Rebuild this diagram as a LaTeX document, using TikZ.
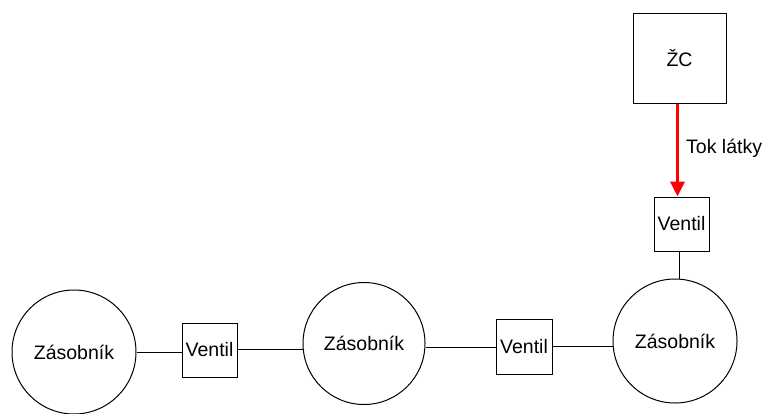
\documentclass[tikz,border=0pt]{standalone}
\usepackage{fontspec}
\setmainfont{Liberation Sans}
\usetikzlibrary{arrows.meta}
\begin{document}
\begin{tikzpicture}[x=1pt,y=-1pt,
  every node/.style={font=\fontsize{19.5}{22}\selectfont, inner sep=0pt},
  tank/.style={draw, line width=1pt, circle, minimum size=#1},
  valvebox/.style={draw, line width=1pt, minimum width=55pt, minimum height=54pt},
  pipe/.style={line width=1pt},
  flow/.style={red, line width=3.5pt, -{Triangle[length=15pt,width=14pt]}}]
\useasboundingbox (0,0) rectangle (767,413);
\node[tank=124pt] (c1) at (74,352) {Zásobník};
\node[tank=122pt] (c2) at (364,343.5) {Zásobník};
\node[tank=124pt] (c3) at (675,341) {Zásobník};
\node[valvebox] (v1) at (209.5,350) {Ventil};
\node[valvebox, minimum width=56pt, minimum height=55pt] (v2) at (524,346.5) {Ventil};
\node[valvebox] (v3) at (681.5,224) {Ventil};
\node[draw, line width=1pt, minimum width=93pt, minimum height=90pt] (zc) at (679.5,58) {ŽC};
\node[anchor=west] (lbl) at (686,148) {Tok látky};
\draw[pipe] (c1.east) -- (c1.east -| v1.west);
\draw[pipe] ([yshift=1pt]v1.east) -- ([yshift=1pt]v1.east -| c2.west);
\draw[pipe] ([yshift=-3.5pt]c2.east) -- ([yshift=-3.5pt]c2.east -| v2.west);
\draw[pipe] (v2.east) -- (v2.east -| c3.west);
\draw[pipe] ([xshift=-2.5pt]v3.south) -- ([xshift=-2.5pt]v3.south |- c3.north);
\draw[flow] ([xshift=-2pt]zc.south) -- ([xshift=-2pt]zc.south |- v3.north);
\end{tikzpicture}
\end{document}
